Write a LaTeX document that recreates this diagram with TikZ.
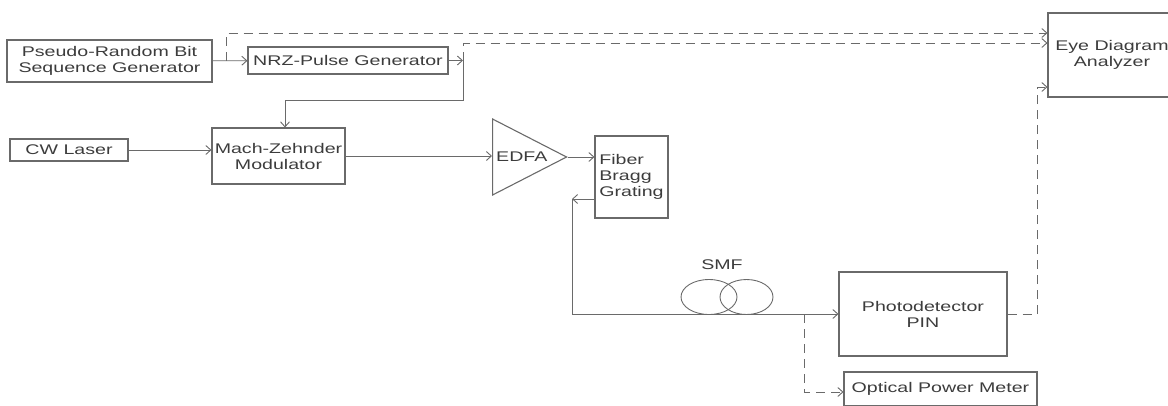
\documentclass[tikz,border=0pt]{standalone}
\usepackage{fontspec}
\setmainfont{Liberation Sans}[FakeStretch=1.4]
\usetikzlibrary{positioning,arrows.meta,shapes.geometric}
\definecolor{lineGray}{HTML}{6A6A6A}
\definecolor{textGray}{HTML}{3C3C3C}

\begin{document}
\begin{tikzpicture}[x=1pt, y=-1pt,
  block/.style={rectangle, draw=lineGray, line width=1.1pt, inner sep=2pt, align=center,
    text=textGray, font=\fontsize{14pt}{16pt}\selectfont},
  plain/.style={text=textGray, font=\fontsize{14pt}{16pt}\selectfont},
  arrow/.style={-{Straight Barb[length=5pt,width=9pt]}, line width=0.9pt, draw=lineGray},
  dasharrow/.style={arrow, dash pattern=on 9pt off 6pt},
  coil/.style={ellipse, draw=lineGray, line width=0.9pt, inner sep=0pt}]

  \useasboundingbox (0,0) rectangle (1168,405);
  \clip (0,0) rectangle (1168,405);

  % transmitter
  \node[block, minimum width=205pt, minimum height=42pt] (prbs) at (109.5,61)
    {Pseudo-Random Bit\\Sequence Generator};
  \node[block, minimum width=200pt, minimum height=27pt] (nrz) at (348,60.5)
    {NRZ-Pulse Generator};
  \node[block, minimum width=118pt, minimum height=22pt] (cw) at (69,150) {CW Laser};
  \node[block, minimum width=133pt, minimum height=56pt] (mzm) at (278.5,156)
    {Mach-Zehnder\\Modulator};

  % amplifier and grating
  \node[isosceles triangle, isosceles triangle stretches, shape border rotate=0,
    draw=lineGray, line width=1.1pt, inner sep=0pt, anchor=lower side,
    minimum width=76pt, minimum height=74pt] (edfa) at (492,157) {};
  \node[plain, anchor=west, inner sep=0pt] (edfaText) at (496,157) {EDFA};
  \node[block, align=left, minimum width=73pt, minimum height=82pt] (fbg) at (631.5,177)
    {Fiber\\Bragg\\Grating};

  % fibre span
  \node[coil, minimum width=56pt, minimum height=35pt] (coilA) at (709,297) {};
  \node[coil, minimum width=53pt, minimum height=35pt] (coilB) at (746.5,297) {};
  \node[plain] (smf) at (722,265) {SMF};

  % receiver side
  \node[block, minimum width=168pt, minimum height=84pt] (pd) at (923,314)
    {Photodetector\\PIN};
  \node[block, minimum width=193pt, minimum height=34pt] (opm) at (940.5,389)
    {Optical Power Meter};
  \node[block, minimum width=128pt, minimum height=84pt] (eye) at (1112,55)
    {Eye Diagram\\Analyzer};

  \coordinate (tapA) at (226,60.5);
  \coordinate (nrzOut) at (463,60.5);
  \coordinate (fbgRet) at (572,199);
  \coordinate (tapB) at (804,314);

  \draw[arrow] (prbs) -- (nrz);
  \draw[dasharrow] (tapA) |- ([yshift=22pt]eye.west);
  \draw[arrow] (nrz) -- (nrzOut);
  \draw[dasharrow] (nrzOut) |- ([yshift=12pt]eye.west);
  \draw[arrow] (nrzOut) -- ++(0,40) -| ([xshift=6.5pt]mzm.north);
  \draw[arrow] (cw) -- (cw -| mzm.west);
  \draw[arrow] (mzm.east) -- (mzm.east -| edfa.lower side);
  \draw[arrow] (edfa.apex) -- (edfa.apex -| fbg.west);
  \draw[arrow] (fbgRet -| fbg.west) -- (fbgRet);
  \draw[arrow] (fbgRet) |- (pd);
  \draw[dasharrow] (tapB) |- ([yshift=-3pt]opm.west);
  \draw[dasharrow] (pd.east) -- ++(30,0) |- ([yshift=-32pt]eye.west);
\end{tikzpicture}
\end{document}
